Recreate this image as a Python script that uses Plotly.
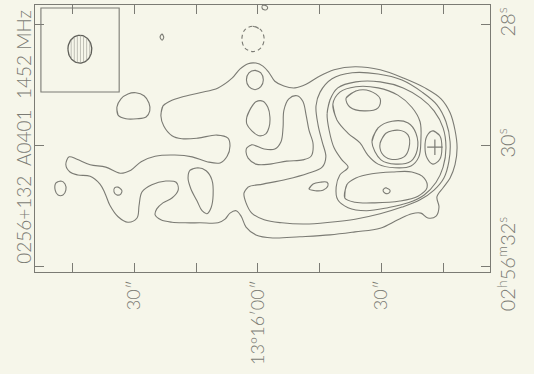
import numpy as np
import plotly.graph_objects as go

# Coordinates: declination offset from 13d16m00s in arcsec (north positive),
# right ascension in seconds past 02h56m.

# lowest contour: tail, arm and head envelope
outer_dec = [23.6, 23.1, 21.4, 18.5, 14.1, 9.7, 6.3, 4.4, 2.4, 0.5,
             -1.2, -2.7, -4.1, -6.3, -9.0, -11.7, -14.6, -18.5, -23.6, -29.7,
             -35.5, -40.6, -44.5, -46.7, -47.9, -48.4, -47.9, -46.7, -45.0, -43.5,
             -44.0, -43.3, -41.3, -39.6, -37.4, -34.0, -29.7, -23.6, -17.5, -10.2,
             -3.6, 0.5, 2.9, 4.1, 5.3, 6.8, 8.0, 9.7, 14.1, 17.7,
             20.9, 23.6, 25.0, 24.6, 23.1, 20.9, 19.4, 19.9, 22.4, 25.8,
             28.2, 28.9, 29.4, 31.6, 34.0, 36.0, 37.2, 38.4, 40.8, 43.8,
             45.7, 46.7, 45.9, 44.0, 40.8, 37.0, 33.5, 30.9, 28.4, 25.0,
             20.2, 16.0, 12.4, 9.2, 7.5, 6.8, 7.3, 10.0, 14.6, 18.5,
             20.9, 22.9]
outer_ra = [29.50, 29.34, 29.26, 29.19, 29.12, 29.04, 28.88, 28.73, 28.64, 28.63,
            28.68, 28.79, 28.93, 29.01, 29.04, 28.98, 28.86, 28.74, 28.69, 28.74,
            28.88, 29.04, 29.22, 29.45, 29.74, 30.03, 30.31, 30.53, 30.69, 30.84,
            31.01, 31.16, 31.19, 31.11, 31.12, 31.22, 31.36, 31.42, 31.47, 31.50,
            31.52, 31.47, 31.34, 31.16, 31.07, 31.11, 31.21, 31.27, 31.27, 31.27,
            31.26, 31.22, 31.14, 31.04, 30.94, 30.86, 30.73, 30.60, 30.58, 30.64,
            30.76, 30.98, 31.19, 31.26, 31.17, 30.98, 30.78, 30.63, 30.50, 30.48,
            30.43, 30.31, 30.18, 30.22, 30.31, 30.35, 30.45, 30.40, 30.26, 30.17,
            30.15, 30.18, 30.26, 30.28, 30.17, 30.00, 29.87, 29.82, 29.87, 29.88,
            29.83, 29.67]

# isolated lowest-level patches
far_knot_dec = [49.1, 47.9, 46.9, 46.7, 47.4, 48.6, 49.3]
far_knot_ra = [30.61, 30.58, 30.63, 30.73, 30.81, 30.81, 30.73]

leg_knot_dec = [34.0, 33.1, 33.3, 34.3, 35.0, 34.8]
leg_knot_ra = [30.68, 30.73, 30.79, 30.81, 30.76, 30.69]

dome_dec = [34.0, 34.3, 33.3, 31.6, 29.7, 27.7, 26.5, 26.3, 27.2, 29.4, 32.1]
dome_ra = [29.49, 29.36, 29.22, 29.14, 29.12, 29.17, 29.29, 29.42, 29.52, 29.55, 29.55]

speck_dec = [23.3, 22.9, 23.3, 23.8]
speck_ra = [28.15, 28.20, 28.25, 28.20]

edge_speck_dec = [-1.2, -2.2, -2.2, -1.5, -1.0]
edge_speck_ra = [27.67, 27.69, 27.74, 27.75, 27.72]

# negative contour
neg_dec = [1.2, -0.7, -1.5, -0.7, 1.2, 3.2, 3.9, 3.2]
neg_ra = [28.02, 28.08, 28.23, 28.38, 28.44, 28.38, 28.23, 28.08]

# second-level islands in the tail
tail_drop_dec = [16.5, 14.6, 12.6, 11.2, 10.9, 11.4, 12.4, 13.6, 14.8, 16.3, 17.0]
tail_drop_ra = [30.40, 30.36, 30.41, 30.56, 30.81, 31.02, 31.12, 31.07, 30.91, 30.71, 30.53]

ring_dec = [0.7, -0.7, -1.3, -0.7, 0.7, 2.2, 2.8, 2.2]
ring_ra = [28.75, 28.79, 28.91, 29.02, 29.07, 29.02, 28.91, 28.79]

wedge_dec = [2.7, 1.7, 0.5, -1.2, -2.4, -2.9, -2.7, -1.9, -0.2, 1.5, 2.7]
wedge_ra = [29.52, 29.37, 29.27, 29.26, 29.36, 29.52, 29.69, 29.80, 29.83, 29.75, 29.64]

hook_dec = [2.7, 1.5, -1.5, -4.1, -5.6, -6.1, -6.3, -7.5, -9.5, -10.9,
            -11.7, -12.4, -13.4, -12.9, -10.9, -7.0, -2.9, 0.5, 2.4, 2.9]
hook_ra = [30.03, 29.98, 30.05, 30.05, 29.93, 29.69, 29.41, 29.22, 29.17, 29.26,
           29.49, 29.74, 29.97, 30.17, 30.23, 30.25, 30.30, 30.30, 30.20, 30.10]

# second level: head with its westward tongue
head2_dec = [3.4, 2.4, -1.2, -7.0, -12.2, -15.6, -16.5, -15.6, -14.6, -14.1,
             -15.1, -18.0, -22.9, -29.2, -35.0, -39.9, -43.5, -45.7, -46.7, -46.4,
             -45.2, -42.8, -39.4, -35.0, -29.7, -23.6, -17.5, -11.4, -5.8, -1.5,
             1.5, 2.9]
head2_ra = [30.78, 30.68, 30.63, 30.55, 30.45, 30.35, 30.18, 29.93, 29.65, 29.34,
            29.11, 28.89, 28.79, 28.81, 28.91, 29.11, 29.32, 29.60, 29.93, 30.26,
            30.53, 30.73, 30.89, 31.01, 31.12, 31.21, 31.26, 31.29, 31.27, 31.22,
            31.11, 30.94]

tongue_knot_dec = [-12.4, -13.4, -15.1, -16.8, -17.0, -15.8, -13.9]
tongue_knot_ra = [30.71, 30.63, 30.60, 30.60, 30.66, 30.73, 30.74]

# third level
head3_dec = [-16.8, -17.5, -19.4, -23.8, -29.7, -35.3, -39.6, -42.8, -45.0, -45.7,
             -45.0, -43.3, -40.4, -36.5, -31.6, -26.3, -21.9, -19.4, -19.0, -19.9,
             -21.9, -20.4, -18.5, -17.3]
head3_ra = [29.47, 29.24, 29.04, 28.94, 28.94, 29.04, 29.21, 29.42, 29.70, 30.03,
            30.35, 30.60, 30.81, 30.94, 31.02, 31.07, 31.02, 30.89, 30.68, 30.48,
            30.35, 30.23, 30.03, 29.74]

# fourth level: the two northern peaks and the southern lobe
peaks4_dec = [-19.2, -18.2, -19.9, -23.8, -29.2, -34.0, -37.4, -39.4, -39.6, -39.1,
              -37.2, -33.3, -29.2, -26.7, -24.8, -21.9]
peaks4_ra = [29.57, 29.31, 29.11, 29.02, 29.04, 29.16, 29.36, 29.60, 29.90, 30.18,
             30.33, 30.36, 30.30, 30.15, 29.95, 29.79]

lobe4_dec = [-21.1, -21.6, -23.8, -27.7, -32.6, -37.4, -40.4, -41.1, -38.9, -34.5,
             -28.4, -23.6]
lobe4_ra = [30.86, 30.64, 30.53, 30.46, 30.43, 30.43, 30.53, 30.69, 30.83, 30.91,
            30.94, 30.93]

# higher levels
peak_a_dec = [-21.4, -23.8, -27.2, -29.7, -29.2, -25.8, -22.4]
peak_a_ra = [29.21, 29.09, 29.09, 29.22, 29.37, 29.42, 29.36]

peak_b5_dec = [-27.7, -29.2, -32.6, -36.5, -38.4, -38.7, -37.2, -33.5, -29.9]
peak_b5_ra = [29.93, 29.70, 29.59, 29.62, 29.79, 30.07, 30.25, 30.30, 30.23]

peak_b6_dec = [-29.7, -31.1, -34.3, -36.5, -36.7, -35.5, -32.3, -30.1]
peak_b6_ra = [29.95, 29.79, 29.74, 29.82, 30.03, 30.18, 30.22, 30.12]

core_dec = [-42.5, -44.2, -44.7, -44.2, -42.5, -41.1, -40.6, -41.1]
core_ra = [29.75, 29.83, 30.03, 30.22, 30.30, 30.20, 30.02, 29.83]

lobe_peak_dec = [-31.1, -32.1, -31.8, -30.9, -30.4]
lobe_peak_ra = [30.69, 30.73, 30.78, 30.78, 30.73]

# optical nucleus
nucleus_dec = [-43.0]
nucleus_ra = [30.02]

# restoring beam (FWHM half-axes)
beam_dec0, beam_ra0 = 43.3, 28.40
beam_half_dec, beam_half_ra = 2.9, 0.23

# axis ticks
dec_ticks = [45, 30, 15, 0, -15, -30, -45]
dec_labels = ["", "30″", "", "13°16′00″", "", "30″", ""]
ra_ticks = [28, 30, 32]
ra_labels = ["28<sup>s</sup>", "30<sup>s</sup>",
             "02<sup>h</sup>56<sup>m</sup>32<sup>s</sup>"]

title_text = "0256+132  A0401  1452 MHz"

BG = "#f6f6ea"
INK = "#7b7b74"
FONT = dict(family="Lato, 'Open Sans', sans-serif", size=20, color=INK, weight=300)
DEC_FONT = dict(FONT, size=18)
TITLE_FONT = dict(FONT, size=19)

solid = [
    (outer_dec, outer_ra), (far_knot_dec, far_knot_ra), (leg_knot_dec, leg_knot_ra),
    (dome_dec, dome_ra), (speck_dec, speck_ra), (edge_speck_dec, edge_speck_ra),
    (tail_drop_dec, tail_drop_ra), (ring_dec, ring_ra), (wedge_dec, wedge_ra),
    (hook_dec, hook_ra), (head2_dec, head2_ra), (tongue_knot_dec, tongue_knot_ra),
    (head3_dec, head3_ra), (peaks4_dec, peaks4_ra), (lobe4_dec, lobe4_ra),
    (peak_a_dec, peak_a_ra), (peak_b5_dec, peak_b5_ra), (peak_b6_dec, peak_b6_ra),
    (core_dec, core_ra), (lobe_peak_dec, lobe_peak_ra),
]


def closed(xs, ys):
    return list(xs) + [xs[0], xs[1]], list(ys) + [ys[0], ys[1]]


fig = go.Figure()

for xs, ys in solid:
    cx, cy = closed(xs, ys)
    fig.add_trace(go.Scatter(x=cx, y=cy, mode="lines",
                             line=dict(color=INK, width=1.1, shape="spline", smoothing=1.0),
                             hoverinfo="skip"))

nx, ny = closed(neg_dec, neg_ra)
fig.add_trace(go.Scatter(x=nx, y=ny, mode="lines",
                         line=dict(color=INK, width=1.1, shape="spline", dash="4px,3px"),
                         hoverinfo="skip"))

fig.add_trace(go.Scatter(x=nucleus_dec, y=nucleus_ra, mode="markers",
                         marker=dict(symbol="cross-thin", size=11,
                                     line=dict(color=INK, width=1.2)),
                         hoverinfo="skip"))

# beam ellipse with vertical hatching
t = np.linspace(0, 2 * np.pi, 80)
fig.add_trace(go.Scatter(x=beam_dec0 + beam_half_dec * np.cos(t),
                         y=beam_ra0 + beam_half_ra * np.sin(t), mode="lines",
                         line=dict(color="#5e5e58", width=1.3), hoverinfo="skip"))
hx, hy = [], []
for off in np.arange(-beam_half_dec + 0.5, beam_half_dec, 0.75):
    h = beam_half_ra * np.sqrt(max(0.0, 1 - (off / beam_half_dec) ** 2))
    hx += [beam_dec0 + off, beam_dec0 + off, None]
    hy += [beam_ra0 - h, beam_ra0 + h, None]
fig.add_trace(go.Scatter(x=hx, y=hy, mode="lines",
                         line=dict(color="#9a9a92", width=0.6), hoverinfo="skip"))

# beam inset frame
fig.add_shape(type="rect", xref="x domain", yref="y domain",
              x0=0.013, x1=0.185, y0=0.674, y1=0.989,
              line=dict(color=INK, width=1.1), fillcolor="rgba(0,0,0,0)")

fig.add_annotation(text=title_text, xref="paper", yref="paper",
                   x=-0.025, y=0.505, xanchor="center", yanchor="middle",
                   textangle=-90, showarrow=False, font=TITLE_FONT)

axis_common = dict(showgrid=False, zeroline=False, showline=True, linecolor=INK,
                   linewidth=1.1, mirror="allticks", ticks="inside", ticklen=9,
                   tickcolor=INK, tickwidth=1.1, tickangle=-90, automargin=False)

fig.update_xaxes(range=[54.2, -56.4], tickvals=dec_ticks, ticktext=dec_labels,
                 tickfont=DEC_FONT, **axis_common)
fig.update_yaxes(range=[32.083, 27.67], side="right", tickvals=ra_ticks,
                 ticktext=ra_labels, tickfont=FONT, **axis_common)

fig.update_layout(width=534, height=374, margin=dict(l=35, r=44, t=5, b=102),
                  paper_bgcolor=BG, plot_bgcolor=BG, showlegend=False)

fig.write_html("out.html")
